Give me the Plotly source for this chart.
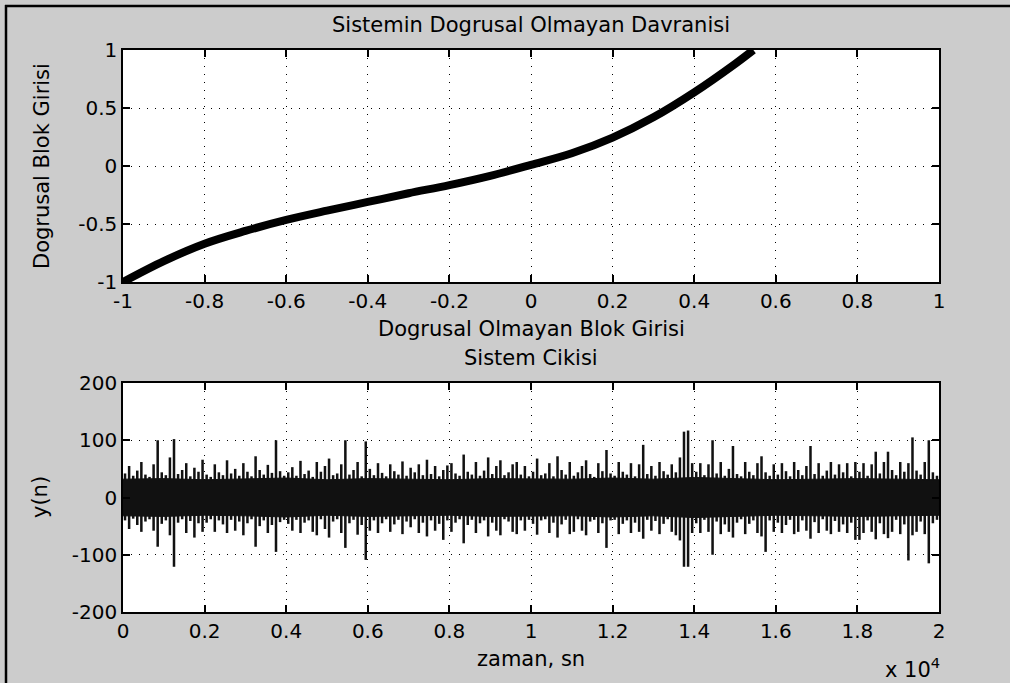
import plotly.graph_objects as go

W, H = 1010, 683

# ---------------- data: top subplot (nonlinearity) ----------------
nl_x = [-1.0, -0.9, -0.8, -0.7, -0.6, -0.5, -0.4, -0.3, -0.2, -0.1, 0.0, 0.1, 0.2, 0.3, 0.4, 0.5, 0.545]
nl_y = [-1.0, -0.82, -0.67, -0.56, -0.465, -0.385, -0.31, -0.235, -0.165, -0.085, 0.01, 0.11, 0.245, 0.42, 0.635, 0.88, 1.0]

top_xticks = [-1, -0.8, -0.6, -0.4, -0.2, 0, 0.2, 0.4, 0.6, 0.8, 1]
top_xlabels = ["-1", "-0.8", "-0.6", "-0.4", "-0.2", "0", "0.2", "0.4", "0.6", "0.8", "1"]
top_yticks = [-1, -0.5, 0, 0.5, 1]
top_ylabels = ["-1", "-0.5", "0", "0.5", "1"]

# ---------------- data: bottom subplot (system output) ----------------
bin_size = 100  # samples per envelope bin (200 bins over 20000 samples)
out_hi = [
    42, 55, 38, 47, 62, 40, 36, 58, 100, 44, 39, 70, 102, 41, 48, 60, 37, 52, 45, 66,
    40, 36, 58, 44, 39, 65, 42, 50, 38, 60, 45, 37, 72, 48, 40, 57, 43, 100, 46, 38,
    44, 53, 38, 64, 41, 47, 36, 62, 45, 55, 68, 39, 42, 58, 100, 40, 48, 62, 37, 98,
    50, 39, 60, 43, 37, 58, 46, 40, 63, 38, 52, 44, 58, 39, 66, 41, 55, 37, 48, 56,
    60, 42, 38, 75, 45, 40, 62, 38, 47, 70, 41, 55, 65, 39, 44, 58, 62, 40, 55, 37,
    45, 68, 39, 42, 60, 37, 72, 48, 40, 62, 38, 44, 55, 65, 41, 36, 60, 46, 83, 42,
    38, 62, 45, 40, 60, 37, 58, 92, 41, 55, 38, 62, 46, 40, 58, 44, 70, 115, 117, 60,
    45, 60, 39, 58, 100, 42, 62, 38, 50, 90, 41, 37, 62, 45, 39, 60, 72, 44, 38, 58,
    40, 60, 46, 37, 62, 48, 39, 55, 90, 41, 60, 38, 47, 62, 40, 58, 44, 60, 37, 62,
    45, 60, 38, 58, 80, 42, 62, 80, 48, 39, 62, 45, 60, 105, 47, 40, 62, 100, 44, 38,
]
out_lo = [
    -40, -55, -37, -48, -60, -42, -38, -58, -86, -46, -40, -66, -121, -44, -38, -62, -41, -70, -45, -60,
    -44, -38, -60, -40, -47, -62, -39, -58, -42, -66, -45, -38, -86, -50, -40, -62, -48, -95, -43, -39,
    -46, -58, -39, -62, -44, -40, -60, -66, -38, -55, -70, -42, -38, -62, -88, -45, -39, -65, -48, -109,
    -58, -40, -62, -45, -38, -60, -47, -39, -64, -42, -52, -38, -62, -44, -68, -40, -58, -46, -74, -40,
    -60, -44, -38, -80, -48, -39, -62, -45, -40, -68, -44, -58, -66, -38, -42, -60, -64, -40, -58, -39,
    -46, -65, -40, -38, -62, -44, -70, -47, -39, -64, -60, -38, -58, -66, -42, -39, -62, -45, -88, -40,
    -39, -64, -46, -40, -62, -44, -60, -72, -39, -58, -41, -64, -46, -38, -60, -66, -75, -121, -121, -62,
    -45, -62, -39, -60, -100, -42, -64, -47, -60, -70, -44, -38, -64, -46, -40, -62, -68, -95, -40, -60,
    -44, -62, -48, -39, -64, -60, -40, -58, -72, -43, -62, -38, -58, -64, -41, -60, -47, -62, -44, -74,
    -74, -62, -40, -60, -73, -45, -64, -71, -60, -39, -64, -47, -110, -66, -60, -42, -64, -115, -45, -39,
]
core_step = 1000
core_hi = [32, 33, 31, 32, 34, 31, 33, 32, 31, 33, 32, 32, 34, 32, 35, 33, 31, 32, 33, 32, 31]
core_lo = [-32, -33, -31, -32, -34, -31, -33, -32, -31, -33, -32, -32, -34, -32, -35, -33, -31, -32, -33, -32, -31]

bot_xticks = [0, 2000, 4000, 6000, 8000, 10000, 12000, 14000, 16000, 18000, 20000]
bot_xlabels = ["0", "0.2", "0.4", "0.6", "0.8", "1", "1.2", "1.4", "1.6", "1.8", "2"]
bot_yticks = [-200, -100, 0, 100, 200]
bot_ylabels = ["-200", "-100", "0", "100", "200"]

# ---------------- build figure ----------------
FONT = "DejaVu Sans"
INK = "#111111"
fig = go.Figure()

fig.add_trace(go.Scatter(
    x=nl_x, y=nl_y, mode="lines",
    line=dict(color="black", width=8, shape="spline"),
    xaxis="x", yaxis="y", showlegend=False, hoverinfo="skip"))

# core band of the noise
ct = [i * core_step for i in range(len(core_hi))]
fig.add_trace(go.Scatter(
    x=ct + ct[::-1], y=core_hi + core_lo[::-1], mode="lines",
    fill="toself", fillcolor=INK, line=dict(color=INK, width=1),
    xaxis="x2", yaxis="y2", showlegend=False, hoverinfo="skip"))

# per-bin extremes of the noise drawn as thin bars from min to max
bt = [i * bin_size + bin_size / 2 for i in range(len(out_hi))]
fig.add_trace(go.Bar(
    x=bt, y=[h - l for h, l in zip(out_hi, out_lo)], base=out_lo,
    width=bin_size * 0.62, marker=dict(color=INK, line=dict(width=0)),
    xaxis="x2", yaxis="y2", showlegend=False, hoverinfo="skip"))

def ax_style(**kw):
    d = dict(
        showline=True, linecolor="black", linewidth=1.5, mirror="ticks",
        ticks="inside", ticklen=7, tickwidth=1.5, tickcolor="black",
        showgrid=True, gridcolor="black", gridwidth=1, griddash="1px,7px",
        zeroline=False, tickfont=dict(family=FONT, size=20, color="black"),
        tickmode="array", fixedrange=True, layer="above traces",
    )
    d.update(kw)
    return d

xd = [123 / W, 939 / W]
fig.update_layout(
    width=W, height=H, autosize=False, barmode="overlay",
    margin=dict(l=0, r=0, t=0, b=0, pad=0, autoexpand=False),
    paper_bgcolor="#cccccc", plot_bgcolor="white",
    xaxis=ax_style(domain=xd, range=[-1, 1], tickvals=top_xticks, ticktext=top_xlabels, anchor="y"),
    yaxis=ax_style(domain=[1 - 282 / H, 1 - 50 / H], range=[-1, 1], tickvals=top_yticks, ticktext=top_ylabels, anchor="x"),
    xaxis2=ax_style(domain=xd, range=[0, 20000], tickvals=bot_xticks, ticktext=bot_xlabels, anchor="y2"),
    yaxis2=ax_style(domain=[1 - 612 / H, 1 - 383 / H], range=[-200, 200], tickvals=bot_yticks, ticktext=bot_ylabels, anchor="x2"),
)

def ann(text, xp, yp, size=21, angle=0, xanchor="center"):
    fig.add_annotation(text=text, x=xp / W, y=1 - yp / H, xref="paper", yref="paper",
                       showarrow=False, xanchor=xanchor, yanchor="middle", textangle=angle,
                       font=dict(family=FONT, size=size, color="black"))

ann("Sistemin Dogrusal Olmayan Davranisi", 531, 25)
ann("Dogrusal Olmayan Blok Girisi", 531, 329)
ann("Sistem Cikisi", 531, 358)
ann("Dogrusal Blok Girisi", 42, 166, angle=-90)
ann("y(n)", 40, 497, angle=-90)
ann("zaman, sn", 531, 659)
ann("x 10<sup>4</sup>", 883, 668, xanchor="left")

# window frame lines (top and left)
fig.add_shape(type="line", xref="paper", yref="paper", x0=5 / W, x1=1.05, y0=1 - 6 / H, y1=1 - 6 / H,
              line=dict(color="black", width=2.5))
fig.add_shape(type="line", xref="paper", yref="paper", x0=6 / W, x1=6 / W, y0=-0.05, y1=1 - 5 / H,
              line=dict(color="black", width=2.5))

fig.write_html(
    "out.html",
    config={"responsive": False, "displayModeBar": False},
    post_script=("document.body.style.margin='0';document.body.style.background='#cccccc';"
                 "document.body.style.overflow='hidden';document.documentElement.style.overflow='hidden';"),
)
